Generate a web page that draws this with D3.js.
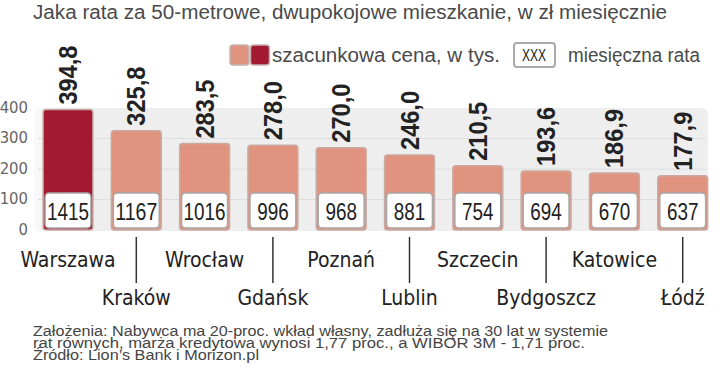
<!DOCTYPE html>
<html>
<head>
<meta charset="utf-8">
<script src="https://cdn.jsdelivr.net/npm/d3@7"></script>
<style>
  body { margin: 0; background: #fff; }
  svg { display: block; }
</style>
</head>
<body>
<script>
// Dane z wykresu
var cities = ["Warszawa", "Kraków", "Wrocław", "Gdańsk", "Poznań", "Lublin", "Szczecin", "Bydgoszcz", "Katowice", "Łódź"];
var prices = [394.8, 325.8, 283.5, 278.0, 270.0, 246.0, 210.5, 193.6, 186.9, 177.9];
var rates = [1415, 1167, 1016, 996, 968, 881, 754, 694, 670, 637];
var yTicks = [0, 100, 200, 300, 400];
var titleText = "Jaka rata za 50-metrowe, dwupokojowe mieszkanie, w zł miesięcznie";
var legendPrice = "szacunkowa cena, w tys.";
var legendRate = "miesięczna rata";
var notes = [
    "Założenia: Nabywca ma 20-proc. wkład własny, zadłuża się na 30 lat w systemie",
    "rat równych, marża kredytowa wynosi 1,77 proc., a WIBOR 3M  - 1,71 proc.",
    "Źródło: Lion’s Bank i Morizon.pl"
];

var W = 720, H = 372;
var sans = "'Liberation Sans', Arial, sans-serif";
var cond = "'DejaVu Sans Condensed', 'Liberation Sans', sans-serif";

// sciska tekst do zadanej szerokosci (krój waski w oryginale)
function squeeze(sel, len) {
    sel.attr("textLength", len).attr("lengthAdjust", "spacingAndGlyphs");
}

var svg = d3.select("body").append("svg")
    .attr("width", W)
    .attr("height", H);

var x = d3.scaleBand()
    .domain(cities)
    .range([33.85, 716.85])
    .paddingInner(0.27)
    .paddingOuter(0.135);

var y = d3.scaleLinear()
    .domain([0, 400])
    .range([230, 108]);

var fmt = function (v) { return d3.format(".1f")(v).replace(".", ","); };

// tytul
svg.append("text")
    .attr("x", 33).attr("y", 19)
    .style("font-family", sans)
    .style("font-size", "20px")
    .style("fill", "#4a4a4a")
    .text(titleText)
    .call(squeeze, 634);

// legenda
var lg = svg.append("g");
lg.append("rect").attr("x", 230).attr("y", 45).attr("width", 19).attr("height", 20)
    .attr("rx", 3).attr("fill", "#e0937e").attr("stroke", "#c4b4b0").attr("stroke-width", 1.5);
lg.append("rect").attr("x", 250.5).attr("y", 45).attr("width", 19).attr("height", 20)
    .attr("rx", 3).attr("fill", "#a11a31").attr("stroke", "#c4b4b0").attr("stroke-width", 1.5);
lg.append("text").attr("x", 272).attr("y", 62)
    .style("font-family", sans).style("font-size", "20px").style("fill", "#4a4a4a")
    .text(legendPrice)
    .call(squeeze, 228);
lg.append("rect").attr("x", 514).attr("y", 43).attr("width", 41).attr("height", 24)
    .attr("rx", 3).attr("fill", "#fff").attr("stroke", "#aaa").attr("stroke-width", 2);
lg.append("text").attr("x", 522).attr("y", 61)
    .style("font-family", sans).style("font-size", "16px").style("fill", "#222")
    .text("XXX")
    .call(squeeze, 24);
lg.append("text").attr("x", 568).attr("y", 62)
    .style("font-family", sans).style("font-size", "20px").style("fill", "#4a4a4a")
    .text(legendRate)
    .call(squeeze, 132);

// tlo pod slupkami
var defs = svg.append("defs");
var grad = defs.append("linearGradient").attr("id", "panelGrad")
    .attr("x1", "0").attr("x2", "1").attr("y1", "0").attr("y2", "0");
grad.append("stop").attr("offset", "0").attr("stop-color", "#fafafa");
grad.append("stop").attr("offset", "0.03").attr("stop-color", "#eeeeee");
grad.append("stop").attr("offset", "1").attr("stop-color", "#eeeeee");

svg.append("rect")
    .attr("x", 34).attr("y", y(400))
    .attr("width", 674).attr("height", y(0) - y(400) + 1)
    .attr("rx", 7)
    .attr("fill", "url(#panelGrad)");

svg.append("g").selectAll("line")
    .data(yTicks.filter(function (d) { return d > 0 && d < 400; }))
    .enter().append("line")
    .attr("x1", 38).attr("x2", 706)
    .attr("y1", function (d) { return y(d); })
    .attr("y2", function (d) { return y(d); })
    .attr("stroke", "#dedede")
    .attr("stroke-width", 1);

// os Y
svg.append("g").selectAll("text")
    .data(yTicks)
    .enter().append("text")
    .attr("x", 28)
    .attr("y", function (d) { return y(d) - 1; })
    .attr("dy", "0.35em")
    .attr("text-anchor", "end")
    .style("font-family", cond)
    .style("font-size", "16.5px")
    .style("fill", "#666")
    .text(function (d) { return d; });

// slupki
var bars = svg.append("g").selectAll("g")
    .data(cities)
    .enter().append("g");

bars.append("rect")
    .attr("x", function (d) { return x(d); })
    .attr("y", function (d, i) { return y(prices[i]); })
    .attr("width", x.bandwidth())
    .attr("height", function (d, i) { return y(0) - y(prices[i]); })
    .attr("rx", 3)
    .attr("fill", function (d, i) { return i === 0 ? "#a11a31" : "#e0937e"; })
    .attr("stroke", "#c9aaa3")
    .attr("stroke-width", 1.5);

bars.append("rect")
    .attr("x", function (d) { return x(d) + 2; })
    .attr("y", y(0) - 37)
    .attr("width", x.bandwidth() - 4)
    .attr("height", 35)
    .attr("rx", 4)
    .attr("fill", "#fff")
    .attr("stroke", "#a8a8a8")
    .attr("stroke-width", 1.5);

bars.append("text")
    .attr("x", function (d) { return x(d) + x.bandwidth() / 2; })
    .attr("y", y(0) - 10)
    .attr("text-anchor", "middle")
    .style("font-family", sans)
    .style("font-size", "24px")
    .style("fill", "#222")
    .text(function (d, i) { return rates[i]; })
    .each(function (d, i) {
        d3.select(this).call(squeeze, String(rates[i]).length * 10.5);
    });

bars.append("text")
    .attr("transform", function (d, i) {
        return "translate(" + (x(d) + x.bandwidth() / 2 + 9) + "," + (y(prices[i]) - 5) + ") rotate(-90)";
    })
    .style("font-family", sans)
    .style("font-weight", "bold")
    .style("font-size", "25px")
    .style("fill", "#222")
    .text(function (d, i) { return fmt(prices[i]); })
    .call(squeeze, 59);

// etykiety miast
var labels = svg.append("g").selectAll("g")
    .data(cities)
    .enter().append("g");

labels.filter(function (d, i) { return i % 2 === 1; })
    .append("line")
    .attr("x1", function (d) { return x(d) + x.bandwidth() / 2; })
    .attr("x2", function (d) { return x(d) + x.bandwidth() / 2; })
    .attr("y1", 237).attr("y2", 283)
    .attr("stroke", "#333")
    .attr("stroke-width", 1.5);

labels.append("text")
    .attr("x", function (d) { return x(d) + x.bandwidth() / 2; })
    .attr("y", function (d, i) { return i % 2 === 0 ? 267 : 305; })
    .attr("text-anchor", "middle")
    .style("font-family", cond)
    .style("font-size", "21px")
    .style("fill", "#222")
    .text(function (d) { return d; });

// przypisy
var noteLen = [575, 552, 226];
svg.append("g").selectAll("text")
    .data(notes)
    .enter().append("text")
    .attr("x", 33)
    .attr("y", function (d, i) { return 336 + i * 12; })
    .style("font-family", sans)
    .style("font-size", "15.5px")
    .style("fill", "#444")
    .text(function (d) { return d; })
    .each(function (d, i) {
        d3.select(this).call(squeeze, noteLen[i]);
    });
</script>
</body>
</html>
